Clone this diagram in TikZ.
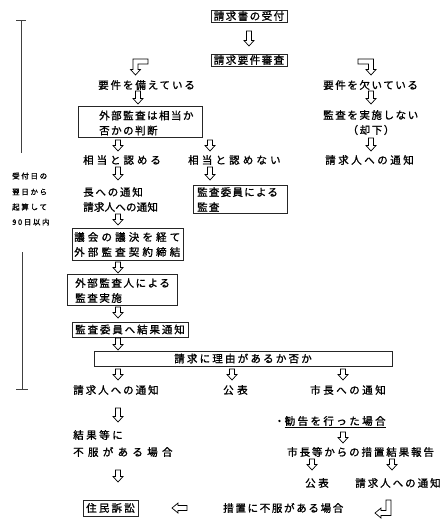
\documentclass[tikz,border=0pt]{standalone}
\usepackage{fontspec}
\newfontfamily\jp{Noto Sans CJK JP}[FakeBold=1.2]
\newcommand\dnar[3]{\draw[blk] ({#1-2.5},#2) -- ({#1+2.5},#2) -- ({#1+2.5},{#3-5.5}) -- ({#1+5},{#3-5.5}) -- (#1,#3) -- ({#1-5},{#3-5.5}) -- ({#1-2.5},{#3-5.5}) -- cycle;}
\begin{document}
\begin{tikzpicture}[x=1pt,y=-1pt,
  txt/.style={inner sep=0pt, anchor=west, font=\jp\fontsize{10.5}{15}\selectfont},
  ls/.style={font=\jp\fontsize{10.5}{15}\selectfont\addfontfeature{LetterSpace=#1}},
  small/.style={inner sep=0pt, anchor=west, font=\jp\fontsize{7.5}{10}\selectfont\addfontfeature{LetterSpace=22}},
  box/.style={draw=black!85, line width=0.9pt, inner sep=0pt},
  blk/.style={draw=black, line width=0.7pt, fill=white, line join=miter},
  tl/.style={draw=black!75, line width=1pt}]
\useasboundingbox (0,0) rectangle (447,525);

% boxes and texts
\node[box, minimum width=76, minimum height=12, ls=14] (n1) at (249,16) {請求書の受付};
\node[box, minimum width=76, minimum height=12, ls=14] (n2) at (249,60) {請求要件審査};
\node[txt, ls=18] (t1) at (98,85) {要件を備えている};
\node[txt, ls=15] (t2) at (323,85) {要件を欠いている};
\node[box, minimum width=124, minimum height=31, anchor=north west] (b1) at (78,106) {};
\node[txt, ls=14, align=left] (b1t) at (99,123) {外部監査は相当か\\否かの判断};
\node[txt, ls=15] (t3) at (323,115) {監査を実施しない};
\node[txt, ls=15, anchor=center] (t4) at (371,130) {（却下）};
\node[txt, ls=24] (t5) at (325,160) {請求人への通知};
\node[txt, ls=28] (t6) at (83,160) {相当と認める};
\node[txt, ls=30] (t7) at (188,160) {相当と認めない};
\node[txt, ls=17] (t8) at (83,192) {長への通知};
\node[txt, ls=2] (t9) at (83,207) {請求人への通知};
\node[box, minimum width=94, minimum height=28, anchor=north west] (b2) at (193,185) {};
\node[txt, ls=12, align=left] (b2t) at (197,199.5) {監査委員による\\監査};
\node[box, minimum width=111, minimum height=32, anchor=north west] (b3) at (72,228) {};
\node[txt, ls=30, align=left] (b3t) at (74,244.5) {議会の議決を経て\\外部監査契約締結};
\node[box, minimum width=110, minimum height=31, anchor=north west] (b4) at (67,274) {};
\node[txt, ls=15, align=left] (b4t) at (75,290.5) {外部監査人による\\監査実施};
\node[box, minimum width=116, minimum height=15, ls=18] (b5) at (130,329.5) {監査委員へ結果通知};
\node[box, minimum width=298, minimum height=15, ls=21] (b6) at (243,358.5) {請求に理由があるか否か};
\node[txt, ls=19] (t10) at (73,390) {請求人への通知};
\node[txt, ls=33] (t11) at (223,390) {公表};
\node[txt, ls=24] (t12) at (310,390) {市長への通知};
\node[txt, ls=23] (t13) at (274,422) {・\underline{勧告を行った場合}};
\node[txt, ls=24] (t14) at (73,435) {結果等に};
\node[txt, ls=41] (t15) at (73,452) {不服がある場合};
\node[txt, ls=18] (t16) at (287,452) {市長等からの措置結果報告};
\node[txt, ls=24] (t17) at (305,483) {公表};
\node[txt, ls=19] (t18) at (355,483) {請求人への通知};
\node[box, minimum width=55, minimum height=16, ls=21] (b7) at (110.5,508) {住民訴訟};
\node[txt, ls=16] (t19) at (223,508) {措置に不服がある場合};

% time line
\node[small] (s1) at (12,176) {受付日の};
\node[small] (s2) at (12,192) {翌日から};
\node[small] (s3) at (12,207) {起算して};
\node[small] (s4) at (12,222) {90日以内};
\coordinate (l1a) at (21,20); \coordinate (l1b) at (21,153);
\coordinate (l1l) at (16,20); \coordinate (l1r) at (26,20);
\draw[tl] (l1l) -- (l1r); \draw[tl] (l1a) -- (l1b);
\coordinate (l2a) at (22,252); \coordinate (l2b) at (22,389);
\coordinate (l2l) at (16,389); \coordinate (l2r) at (28,389);
\draw[tl] (l2a) -- (l2b); \draw[tl] (l2l) -- (l2r);

% block arrows
\dnar{249}{31}{46}
\dnar{138}{91}{104}
\dnar{371}{91}{104}
\dnar{371}{138}{151}
\dnar{118}{140}{151}
\dnar{210}{140}{151}
\dnar{118}{167}{180}
\dnar{210}{167}{180}
\dnar{118}{214}{225}
\dnar{118}{262}{273}
\dnar{118}{307}{318}
\dnar{118}{338}{350}
\dnar{118}{369}{380}
\dnar{232}{369}{380}
\dnar{343}{369}{380}
\dnar{118}{408}{422}
\dnar{343}{432}{443}
\dnar{312}{459}{470}
\dnar{392}{459}{470}
\dnar{118}{470}{482}
% bent arrows
\draw[blk] (133,59) -- (148,59) -- (148,64) -- (138,64) -- (138,69.5) -- (140.5,69.5) -- (135.5,75) -- (130.5,69.5) -- (133,69.5) -- cycle;
\draw[blk] (358,59) -- (373.5,59) -- (373.5,69.5) -- (376,69.5) -- (371,75) -- (366,69.5) -- (368.5,69.5) -- (368.5,64) -- (358,64) -- cycle;
\draw[blk] (386,500) -- (391,500) -- (391,515.5) -- (381,515.5) -- (381,518) -- (375,513) -- (381,508) -- (381,510.5) -- (386,510.5) -- cycle;
% left arrow
\draw[blk] (187,505.5) -- (187,510.5) -- (178,510.5) -- (178,513) -- (172,508) -- (178,503) -- (178,505.5) -- cycle;
\end{tikzpicture}
\end{document}
